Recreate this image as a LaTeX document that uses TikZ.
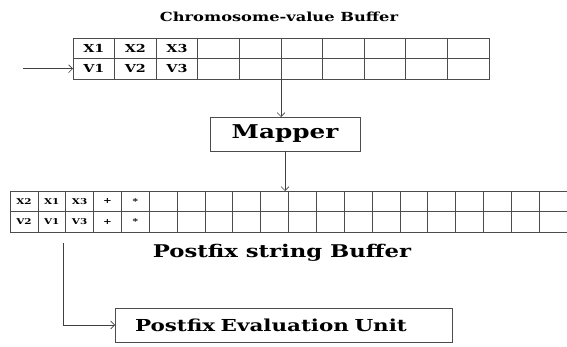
\documentclass[tikz,border=0pt]{standalone}
\usepackage{fontspec}
\setmainfont{DejaVu Serif}
\newfontfamily\widefont[FakeStretch=1.3]{DejaVu Serif}
\usetikzlibrary{positioning}
\usetikzlibrary{arrows.meta}
\tikzset{
topcell/.style={ % cells of the chromosome-value buffer
draw=black!70, line width=0.7pt,
minimum width=41.6pt, minimum height=20.6pt,
inner sep=0pt, outer sep=0pt,
font=\widefont\bfseries\fontsize{11}{12}\selectfont},
botcell/.style={ % cells of the postfix string buffer
draw=black!70, line width=0.7pt,
minimum width=27.85pt, minimum height=20.5pt,
inner sep=0pt, outer sep=0pt,
font=\widefont\bfseries\fontsize{8}{9}\selectfont},
unitbox/.style={
draw=black!70, line width=0.7pt,
inner sep=0pt, outer sep=0pt},
>={Straight Barb[length=4pt,width=8pt]},
every edge/.style={ % arrows between the parts
draw,
->,
black!75,
semithick}}

\begin{document}
\begin{tikzpicture}[x=1pt,y=-1pt]
	\useasboundingbox (0,0) rectangle (567,347);
	\node[font=\widefont\bfseries\fontsize{12.5}{14}\selectfont] (title) at (279,17) {Chromosome-value Buffer};
	\foreach \i/\a/\b in {1/X1/V1,2/X2/V2,3/X3/V3}{
		\node[topcell] (tx\i) at ({73+41.6*(\i-0.5)},48.25) {\a};
		\node[topcell] (tv\i) at ({73+41.6*(\i-0.5)},68.75) {\b};
	}
	\foreach \i in {4,...,10}{
		\node[topcell] (tx\i) at ({73+41.6*(\i-0.5)},48.25) {};
		\node[topcell] (tv\i) at ({73+41.6*(\i-0.5)},68.75) {};
	}
	\node[unitbox, minimum width=150pt, minimum height=34pt, font=\widefont\bfseries\fontsize{19}{21}\selectfont] (mapper) at (285,134) {Mapper};
	\foreach \i/\a/\b in {1/X2/V2,2/X1/V1,3/X3/V3,4/+/+,5/*/*}{
		\node[botcell] (bx\i) at ({10+27.85*(\i-0.5)},201.25) {\a};
		\node[botcell] (bv\i) at ({10+27.85*(\i-0.5)},221.75) {\b};
	}
	\foreach \i in {6,...,20}{
		\node[botcell] (bx\i) at ({10+27.85*(\i-0.5)},201.25) {};
		\node[botcell] (bv\i) at ({10+27.85*(\i-0.5)},221.75) {};
	}
	\node[font=\widefont\bfseries\fontsize{17.5}{19}\selectfont] (pbuf) at (282,253) {Postfix string Buffer};
	\node[unitbox, text width=297pt, inner xsep=20pt, align=left, minimum height=34pt, font=\widefont\bfseries\fontsize{16.5}{18}\selectfont] (evalunit) at (283.5,325) {Postfix Evaluation Unit};
	\coordinate (feed) at (23,68.75);
	\coordinate (tap) at (63,243);
	\draw (feed) edge (tv1.west);
	\draw (tv5.south east) edge (tv5.south east |- mapper.north);
	\draw (mapper.south) edge (mapper.south |- bx1.north);
	\draw[->, black!75, semithick] (tap) |- (evalunit.west);
\end{tikzpicture}
\end{document}
